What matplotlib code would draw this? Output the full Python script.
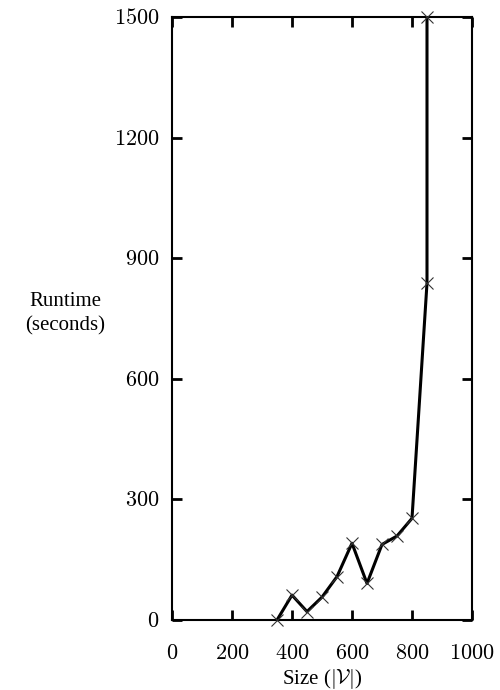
import matplotlib
matplotlib.use("Agg")
import matplotlib.pyplot as plt

plt.rcParams["mathtext.fontset"] = "cm"
plt.rcParams["font.family"] = "Liberation Serif"

sizes = [350, 400, 450, 500, 550, 600, 650, 700, 750, 800, 850, 850]
runtime = [0, 62, 21, 57, 108, 191, 91, 188, 209, 253, 838, 1500]

x_ticks = [0, 200, 400, 600, 800, 1000]
y_ticks = [0, 300, 600, 900, 1200, 1500]

fig = plt.figure(figsize=(5, 6.9), dpi=100)
ax = fig.add_axes([0.344, 0.1014, 0.6, 0.874])

ax.plot(sizes, runtime, color="black", linewidth=2.2, zorder=2)
ax.plot(sizes, runtime, linestyle="none", marker="x", markersize=8,
        markeredgewidth=0.8, color="#333333", zorder=3, clip_on=False)

ax.set_xlim(0, 1000)
ax.set_ylim(0, 1500)
ax.set_xticks(x_ticks)
ax.set_yticks(y_ticks)
ax.set_xticklabels(["$%d$" % v for v in x_ticks])
ax.set_yticklabels(["$%d$" % v for v in y_ticks])
ax.tick_params(direction="in", length=7, width=2, top=True, right=True,
               labelsize=16)
ax.tick_params(axis="x", pad=18)
ax.tick_params(axis="y", pad=9)
for s in ax.spines.values():
    s.set_linewidth(1.5)

ax.set_xlabel(r"Size ($|\mathcal{V}|$)", fontsize=15, labelpad=2)
fig.text(0.13, 0.545, "Runtime\n(seconds)", fontsize=15, ha="center",
         va="center", linespacing=1.35)

fig.savefig("out.png", dpi=100)
